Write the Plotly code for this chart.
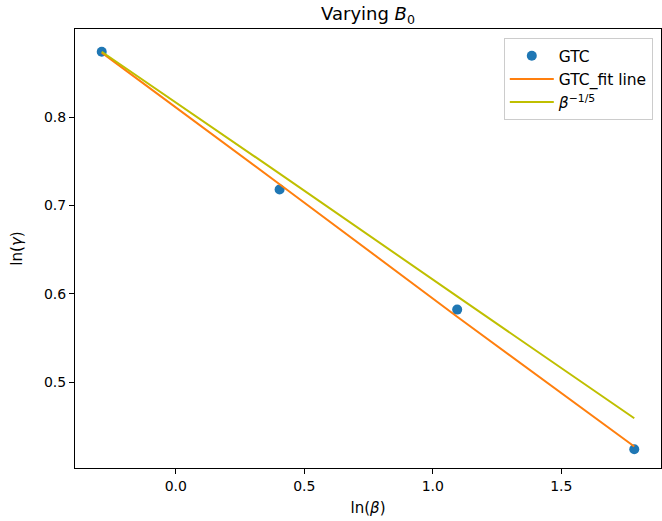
import plotly.graph_objects as go

# data
ln_beta = [-0.288, 0.404, 1.095, 1.784]
ln_gamma = [0.874, 0.718, 0.582, 0.424]
fit_line = [0.873, 0.724, 0.574, 0.427]
ref_line = [0.874, 0.736, 0.597, 0.459]

x_ticks = [0.0, 0.5, 1.0, 1.5]
y_ticks = [0.5, 0.6, 0.7, 0.8]

FONT = "DejaVu Sans"

fig = go.Figure()
fig.add_trace(go.Scatter(x=ln_beta, y=ln_gamma, mode="markers", name="GTC",
                         marker=dict(color="#1f77b4", size=10)))
fig.add_trace(go.Scatter(x=ln_beta, y=fit_line, mode="lines", name="GTC_fit line",
                         line=dict(color="#ff7f0e", width=2)))
fig.add_trace(go.Scatter(x=ln_beta, y=ref_line, mode="lines",
                         name="<i>β</i><sup>−1/5</sup>",
                         line=dict(color="#bfbf00", width=2)))

axis_common = dict(showline=True, mirror=True, linecolor="black", linewidth=1,
                   ticks="outside", ticklen=5, tickwidth=1, tickcolor="black",
                   showgrid=False, zeroline=False,
                   tickfont=dict(family=FONT, size=14, color="black"))

fig.update_layout(
    width=662, height=521,
    margin=dict(l=75, r=1, t=29, b=53),
    paper_bgcolor="white", plot_bgcolor="white",
    font=dict(family=FONT, color="black"),
    title=dict(text="Varying <i>B</i><sub>0</sub>", x=(75 + 661) / 2 / 662, xanchor="center",
               y=1 - 14 / 521, yanchor="middle", yref="container",
               font=dict(family=FONT, size=18, color="black")),
    xaxis=dict(range=[-0.392, 1.888], tickvals=x_ticks, ticktext=["0.0", "0.5", "1.0", "1.5"],
               title=dict(text="ln(<i>β</i>)", font=dict(family=FONT, size=15), standoff=9),
               **axis_common),
    yaxis=dict(range=[0.4027, 0.8997], tickvals=y_ticks, ticktext=["0.5", "0.6", "0.7", "0.8"],
               title=dict(text="ln(<i>γ</i>)", font=dict(family=FONT, size=15), standoff=17),
               **axis_common),
    legend=dict(x=0.986, y=0.979, xanchor="right", yanchor="top",
                bgcolor="white", bordercolor="#cccccc", borderwidth=1,
                itemwidth=44,
                font=dict(family=FONT, size=15.5, color="black")),
    showlegend=True,
)

fig.write_html("out.html")
